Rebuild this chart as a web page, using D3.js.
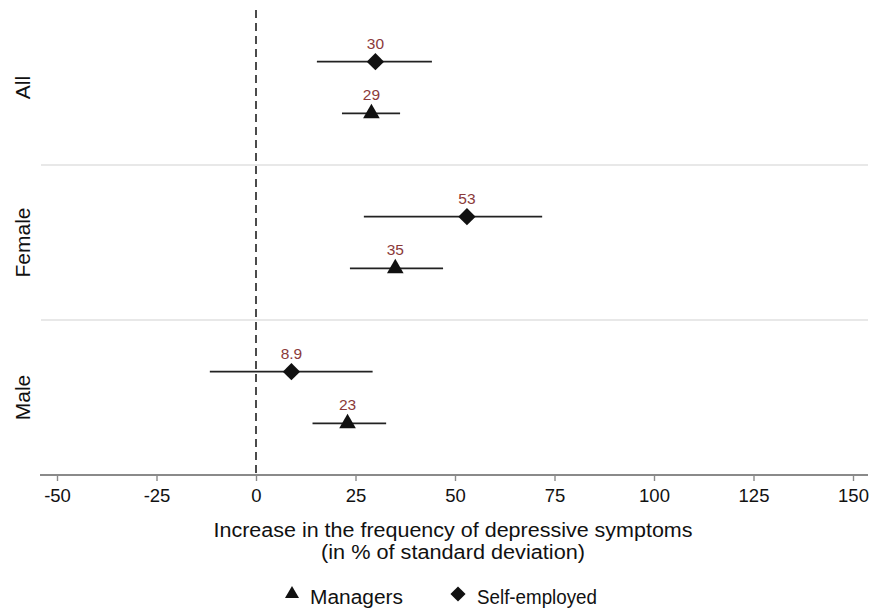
<!DOCTYPE html>
<html><head><meta charset="utf-8">
<script src="https://cdn.jsdelivr.net/npm/d3@7"></script>
<style>body{margin:0;background:#fff}text{font-family:"Liberation Sans",Arial,sans-serif}</style>
</head><body><svg id="c" width="875" height="615"></svg>
<script>
const groups = ["All", "Female", "Male"];
const series = ["Self-employed", "Managers"];
const estimates = {"Self-employed": [30, 53, 8.9], "Managers": [29, 35, 23]};
const ciLow = {"Self-employed": [15.3, 27.1, -11.6], "Managers": [21.6, 23.6, 14.2]};
const ciHigh = {"Self-employed": [44.2, 71.9, 29.3], "Managers": [36.2, 47.0, 32.7]};
const labels = {"Self-employed": ["30", "53", "8.9"], "Managers": ["29", "35", "23"]};
const xTicks = [-50, -25, 0, 25, 50, 75, 100, 125, 150];

const svg = d3.select("#c");
const x = d3.scaleLinear().domain([-50, 150]).range([57, 853]);
const y = d3.scaleBand().domain(groups).range([10, 475]).paddingInner(0).paddingOuter(0);
const yIn = d3.scalePoint().domain(series).range([y.bandwidth()/3, 2*y.bandwidth()/3]);

// separators
groups.slice(1).forEach(g => {
  svg.append("line").attr("x1", 41).attr("x2", 868).attr("y1", y(g)).attr("y2", y(g))
    .attr("stroke", "#e0e0e0").attr("stroke-width", 1.6);
});

// x axis
const ax = svg.append("g").attr("transform", "translate(0,475)")
  .call(d3.axisBottom(x).tickValues(xTicks).tickSize(6).tickPadding(8).tickFormat(d => String(d)));
ax.select(".domain").remove();
ax.insert("line", ":first-child").attr("x1", 40).attr("x2", 868).attr("stroke", "#8a8a8a").attr("stroke-width", 1.8);
ax.selectAll(".tick line").attr("stroke", "#8a8a8a").attr("stroke-width", 1.4);
ax.selectAll(".tick text").attr("font-size", 18.5).attr("fill", "#111").attr("font-family", "Liberation Sans, Arial, sans-serif");

// zero line
svg.append("line").attr("x1", x(0)).attr("x2", x(0)).attr("y1", 10).attr("y2", 475)
  .attr("stroke", "#111").attr("stroke-width", 1.5).attr("stroke-dasharray", "8,5");

// y labels
groups.forEach(g => {
  svg.append("text").attr("transform", `translate(30,${y(g)+y.bandwidth()/2}) rotate(-90)`)
    .attr("text-anchor", "middle").attr("font-size", 21).attr("fill", "#111").text(g);
});

series.forEach(s => {
  groups.forEach((g, i) => {
    const cy = y(g) + yIn(s);
    svg.append("line").attr("x1", x(ciLow[s][i])).attr("x2", x(ciHigh[s][i]))
      .attr("y1", cy).attr("y2", cy).attr("stroke", "#222").attr("stroke-width", 1.6);
    if (s === "Self-employed") {
      svg.append("path").attr("d", d3.symbol().type(d3.symbolSquare).size(150)())
        .attr("transform", `translate(${x(estimates[s][i])},${cy}) rotate(45)`).attr("fill", "#111");
    } else {
      svg.append("path").attr("d", d3.symbol().type(d3.symbolTriangle).size(120)())
        .attr("transform", `translate(${x(estimates[s][i])},${cy})`).attr("fill", "#111");
    }
    svg.append("text").attr("x", x(estimates[s][i])).attr("y", cy - 13).attr("text-anchor", "middle")
      .attr("font-size", 15.5).attr("fill", "#8b3a3a").text(labels[s][i]);
  });
});

// axis title
function fitText(sel, w) { sel.attr("textLength", w).attr("lengthAdjust", "spacingAndGlyphs"); }
fitText(svg.append("text").attr("x", 453).attr("y", 537).attr("text-anchor", "middle").attr("font-size", 20).attr("fill", "#111")
  .text("Increase in the frequency of depressive symptoms"), 479);
fitText(svg.append("text").attr("x", 453).attr("y", 559).attr("text-anchor", "middle").attr("font-size", 20).attr("fill", "#111")
  .text("(in % of standard deviation)"), 264);

// legend
const leg = svg.append("g");
leg.append("path").attr("d", d3.symbol().type(d3.symbolTriangle).size(85)()).attr("transform", "translate(292,594)").attr("fill", "#111");
fitText(leg.append("text").attr("x", 310).attr("y", 604).attr("font-size", 20).attr("fill", "#111").text("Managers"), 93);
leg.append("path").attr("d", d3.symbol().type(d3.symbolSquare).size(115)()).attr("transform", "translate(458,594) rotate(45)").attr("fill", "#111");
fitText(leg.append("text").attr("x", 477).attr("y", 604).attr("font-size", 20).attr("fill", "#111").text("Self-employed"), 120);
</script></body></html>
